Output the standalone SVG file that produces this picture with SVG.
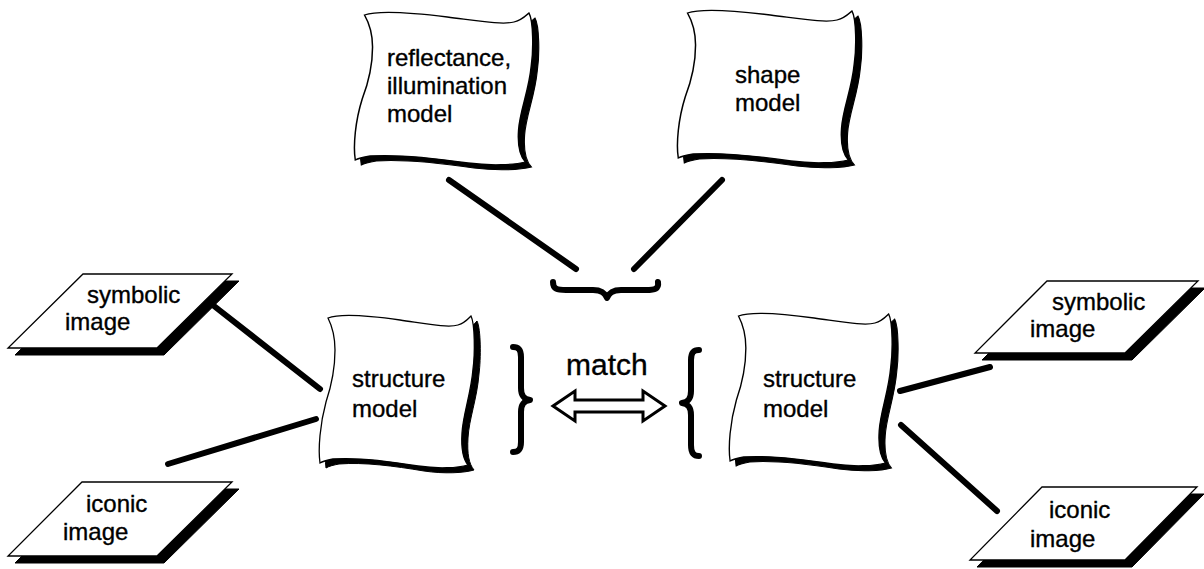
<svg xmlns="http://www.w3.org/2000/svg" xmlns:xlink="http://www.w3.org/1999/xlink" width="1204" height="569" viewBox="0 0 1204 569">
<style>
.txt{font-family:"Liberation Sans",Arial,sans-serif;font-size:24px;fill:#000;stroke:#000;stroke-width:0.35}
.big{font-size:30px}
.shadow{fill:#000;stroke:#000;stroke-width:1}
.face{fill:#fff;stroke:#000;stroke-width:1.3}
.conn{stroke:#000;stroke-width:6;stroke-linecap:round;fill:none}
.brace{stroke:#000;stroke-width:6;stroke-linecap:round;stroke-linejoin:round;fill:none}
</style>
<defs>
<path id="doc" d="M10,4 C20,0 40,0 82,6 C110,10 130,14 140,11 C147,9 150,5 153,2 C157,10 157,40 155,55 C153,80 145,100 144,119 C143,135 145,145 150,151 C140,154 120,155 100,152 C70,147 40,143 15,145 C10,146 5,147 2,149 C0,135 2,110 8,88 C14,70 17,50 17,36 C17,20 13,10 10,4 Z"/>
</defs>
<rect width="1204" height="569" fill="#fff"/>
<g id="connectors">
<line class="conn" x1="214" y1="306" x2="320" y2="389"/>
<line class="conn" x1="168" y1="464" x2="316" y2="419"/>
<line class="conn" x1="900" y1="391" x2="990" y2="367"/>
<line class="conn" x1="901" y1="425" x2="997" y2="511"/>
<line class="conn" x1="449" y1="180" x2="576" y2="269"/>
<line class="conn" x1="722" y1="180" x2="634" y2="269"/>
<path class="brace" d="M553,282 C553,289 557,290 566,290 L593,290 C602,290 605,293 607,298 C609,293 612,290 621,290 L646,290 C655,290 659,289 658,282"/>
<path class="brace" d="M513,347 C519,347 521,350 521,357 L521,388 C521,396 524,399 530,400 C524,401 521,404 521,412 L521,442 C521,449 519,452 513,452"/>
<path class="brace" d="M699,350 C693,350 691,353 691,360 L691,391 C691,399 688,402 682,403 C688,404 691,407 691,415 L691,445 C691,452 693,456 699,456"/>
<path d="M553,406 L575,391 L575,400 L643,400 L643,391 L665,406 L643,421 L643,412 L575,412 L575,421 Z" fill="#fff" stroke="#000" stroke-width="3" stroke-linejoin="miter"/>
<text class="txt big" x="566" y="375">match</text>
</g>
<g id="reflectance">
<use xlink:href="#doc" class="shadow" transform="translate(359,16) scale(1.15,1)"/>
<use xlink:href="#doc" class="face" transform="translate(353,11) scale(1.15,1)"/>
<text class="txt" x="387" y="66">reflectance,</text>
<text class="txt" x="387" y="94">illumination</text>
<text class="txt" x="387" y="122">model</text>
</g>
<g id="shape">
<use xlink:href="#doc" class="shadow" transform="translate(682,14) scale(1.15,1)"/>
<use xlink:href="#doc" class="face" transform="translate(676,9) scale(1.15,1)"/>
<text class="txt" x="735" y="83">shape</text>
<text class="txt" x="735" y="111">model</text>
</g>
<g id="structure-left">
<use xlink:href="#doc" class="shadow" transform="translate(324,319)"/>
<use xlink:href="#doc" class="face" transform="translate(318,314)"/>
<text class="txt" x="352" y="387">structure</text>
<text class="txt" x="352" y="417">model</text>
</g>
<g id="structure-right">
<use xlink:href="#doc" class="shadow" transform="translate(734,317) scale(1.05,1)"/>
<use xlink:href="#doc" class="face" transform="translate(728,312) scale(1.05,1)"/>
<text class="txt" x="763" y="387">structure</text>
<text class="txt" x="763" y="417">model</text>
</g>
<g id="symbolic-left">
<path class="shadow" d="M90,281 L239,281 L164,355 L15,355 Z"/>
<path class="face" d="M83,274 L232,274 L157,348 L8,348 Z"/>
<text class="txt" x="87" y="303">symbolic</text>
<text class="txt" x="65" y="330">image</text>
</g>
<g id="iconic-left">
<path class="shadow" d="M89,489 L239,489 L164,563 L15,563 Z"/>
<path class="face" d="M82,482 L232,482 L157,556 L8,556 Z"/>
<text class="txt" x="86" y="512">iconic</text>
<text class="txt" x="63" y="540">image</text>
</g>
<g id="symbolic-right">
<path class="shadow" d="M1054,288 L1205,288 L1132,360 L982,360 Z"/>
<path class="face" d="M1047,281 L1198,281 L1125,353 L975,353 Z"/>
<text class="txt" x="1052" y="310">symbolic</text>
<text class="txt" x="1030" y="337">image</text>
</g>
<g id="iconic-right">
<path class="shadow" d="M1049,494 L1204,494 L1132,567 L977,567 Z"/>
<path class="face" d="M1042,487 L1197,487 L1125,560 L970,560 Z"/>
<text class="txt" x="1049" y="518">iconic</text>
<text class="txt" x="1030" y="547">image</text>
</g>
</svg>
